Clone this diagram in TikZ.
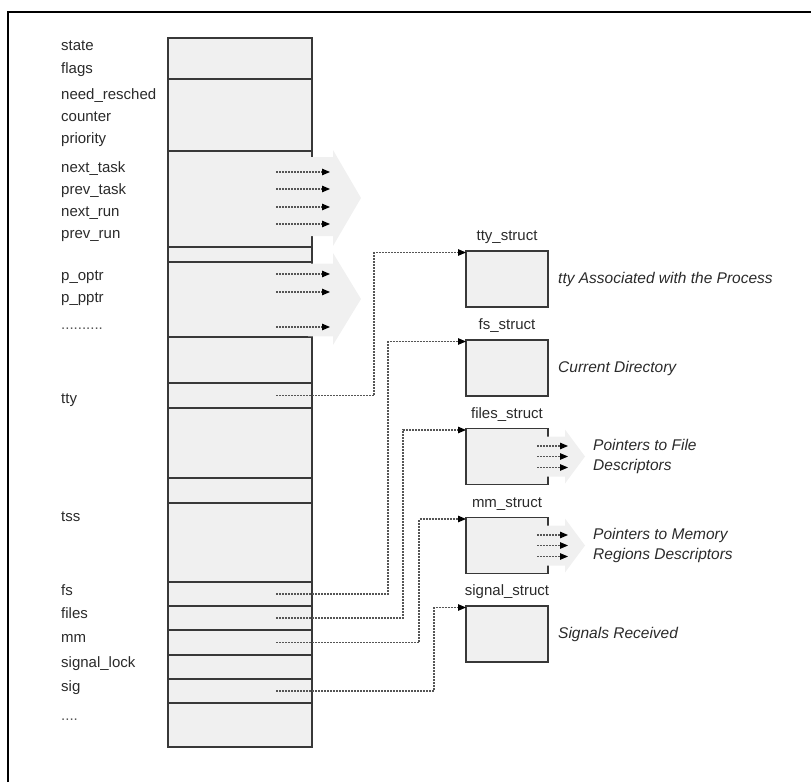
\documentclass[tikz,border=0pt]{standalone}
\usepackage{fontspec}
\setmainfont{Liberation Sans}
\usetikzlibrary{arrows.meta,positioning}

\definecolor{pdfill}{HTML}{F0F0F0}
\definecolor{pdline}{HTML}{383838}
\definecolor{pdtext}{HTML}{2A2A2A}
\definecolor{pddot}{HTML}{555555}

\tikzset{
  pdcell/.style={draw=pdline, fill=pdfill, line width=1.3pt, minimum width=144pt, inner sep=0pt, outer sep=0pt},
  pdbox/.style={draw=pdline, fill=pdfill, line width=1.8pt, minimum width=82pt, minimum height=56pt, inner sep=0pt, outer sep=0pt},
  pdlab/.style={font=\fontsize{15}{18}\selectfont, text=pdtext, inner sep=0pt, text height=11pt, text depth=3pt, anchor=west},
  pdnote/.style={font=\fontsize{15.5}{20}\selectfont\itshape, text=pdtext, inner sep=0pt, anchor=west, align=left},
  pdptr/.style={draw=pddot, line width=1.1pt, dash pattern=on 2pt off 1pt, -{Triangle[length=8pt,width=6.5pt,color=black]}},
  pdbig/.style={fill=pdfill, draw=none}
}

\begin{document}
\begin{tikzpicture}[x=1pt,y=-1pt]
  \useasboundingbox (0,0) rectangle (811,782);
  \draw[line width=2.4pt] (8,782) -- (8,12) -- (811,12);

  % task_struct column
  \foreach \nm/\ya/\yb in {cstate/38/79, csched/79/151, ctask/151/247, cgapa/247/262,
      cptr/262/337, cgapb/337/383, ctty/383/408, cgapc/408/478, cgapd/478/503,
      ctss/503/582, cfs/582/606, cfiles/606/630, cmm/630/655, clock/655/679,
      csig/679/703, crest/703/747}
    \node[pdcell, minimum height={(\yb-\ya)*1pt}] (\nm) at (240,{(\ya+\yb)/2}) {};

  \foreach \nm/\txt/\y in {lstate/state/46, lflags/flags/69, lsched/need\_resched/95,
      lcounter/counter/117, lprio/priority/139, lnexttask/next\_task/168,
      lprevtask/prev\_task/190, lnextrun/next\_run/212, lprevrun/prev\_run/234,
      loptr/p\_optr/276, lpptr/p\_pptr/298, ldotsa/{\color{pddot}..........}/325,
      ltty/tty/399, ltss/tss/517, lfs/fs/591, lfiles/files/614, lmm/mm/638,
      llock/signal\_lock/663, lsig/sig/687, ldotsb/{\color{pddot}....}/716}
    \node[pdlab] (\nm) at (61,\y) {\txt};

  % list links
  \fill[pdbig] (308,157) -- (333,157) -- (333,150) -- (361,198) -- (333,246) -- (333,236) -- (308,236) -- cycle;
  \fill[pdbig] (308,263.5) -- (333,263.5) -- (333,253) -- (361,299) -- (333,345) -- (333,336.4) -- (308,336.4) -- cycle;
  \foreach \y in {172,189,207,224,274,292,327}
    \draw[pdptr] (276,\y) -- (330,\y);

  % referenced structures
  \foreach \nm/\txt/\y in {ttys/tty\_struct/279, fss/fs\_struct/368, filess/files\_struct/456.5,
      mms/mm\_struct/545.5, sigs/signal\_struct/634}
    \node[pdbox, label={[pdlab, anchor=south, label distance=7pt]above:\txt}] (\nm) at (507,\y) {};

  \foreach \nm in {filess, mms} {
    \fill[pdbig] ([xshift=-3pt,yshift=20pt]\nm.east) -- ++(20,0) -- ++(0,-7) -- ++(20,27)
      -- ++(-20,27) -- ++(0,-7) -- ++(-20,0) -- cycle;
    \foreach \dy in {10.5,0,-11}
      \draw[pdptr] ([xshift=-11pt,yshift=\dy pt]\nm.east) -- ++(31,0);
  }

  \foreach \src/\dst/\dx in {ctty/ttys/92, cfs/fss/78, cfiles/filess/63, cmm/mms/47, csig/sigs/32}
    \draw[pdptr] ([xshift=-36pt]\src.east) -| ([xshift=-\dx pt,yshift=-1.5pt]\dst.north west)
      -- ([yshift=-1.5pt]\dst.north west);

  \node[pdnote, right=10pt of ttys] (ntty) {tty Associated with the Process};
  \node[pdnote, right=10pt of fss] (nfs) {Current Directory};
  \node[pdnote, right=45pt of filess] (nfiles) {Pointers to File\\Descriptors};
  \node[pdnote, right=45pt of mms] (nmm) {Pointers to Memory\\Regions Descriptors};
  \node[pdnote, right=10pt of sigs] (nsig) {Signals Received};
\end{tikzpicture}
\end{document}
